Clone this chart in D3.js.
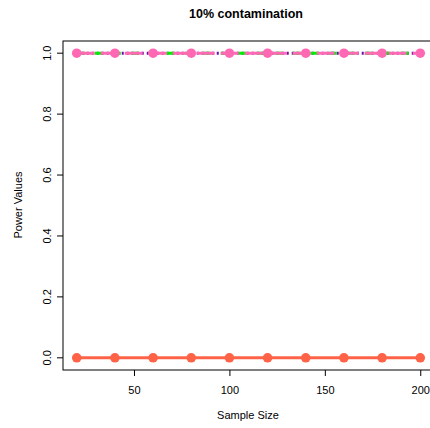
<!DOCTYPE html>
<html>
<head>
<meta charset="utf-8">
<script src="https://cdn.jsdelivr.net/npm/d3@7"></script>
<style>
    body { margin: 0; background: white; }
    text { font-family: "Liberation Sans", Arial, sans-serif; fill: black; }
</style>
</head>
<body>
<div id="chart"></div>
<script>
    // data
    var sampleSizes = [20, 40, 60, 80, 100, 120, 140, 160, 180, 200];
    var powerA = [0, 0, 0, 0, 0, 0, 0, 0, 0, 0];
    var powerB = [1, 1, 1, 1, 1, 1, 1, 1, 1, 1];
    var powerC = [1, 1, 1, 1, 1, 1, 1, 1, 1, 1];
    var powerD = [1, 1, 1, 1, 1, 1, 1, 1, 1, 1];
    var xTicks = [50, 100, 150, 200];
    var yTicks = [0, 0.2, 0.4, 0.6, 0.8, 1.0];

    var series = [
        {vals: powerA, color: "#ff6347", dash: null, pts: true},
        {vals: powerB, color: "#6a0dad", dash: "2,3", pts: false},
        {vals: powerC, color: "#00ee00", dash: "8,10", pts: false},
        {vals: powerD, color: "#ff69b4", dash: "18,6", pts: true}];

    var W = 430, H = 428;
    var box = {left: 63, right: 434, top: 41, bottom: 370};

    var svg = d3.select("#chart").append("svg")
        .attr("width", W).attr("height", H);

    var x = d3.scaleLinear().domain([12.8, 207.2])
        .range([box.left, box.right]);
    var y = d3.scaleLinear().domain([-0.04, 1.04])
        .range([box.bottom, box.top]);

    // series
    series.forEach(function (s) {
        var pts = sampleSizes.map(function (n, i) {
            return [n, s.vals[i]]; });
        var line = d3.line()
            .x(function (d) { return x(d[0]); })
            .y(function (d) { return y(d[1]); });
        var p = svg.append("path")
            .attr("d", line(pts))
            .attr("fill", "none")
            .attr("stroke", s.color)
            .attr("stroke-width", 3);
        if(s.dash) {
            p.attr("stroke-dasharray", s.dash); }
        if(s.pts) {
            svg.append("g").selectAll("circle").data(pts).enter()
                .append("circle")
                .attr("cx", function (d) { return x(d[0]); })
                .attr("cy", function (d) { return y(d[1]); })
                .attr("r", 4.8)
                .attr("fill", s.color); }
    });

    // frame
    svg.append("rect")
        .attr("x", box.left).attr("y", box.top)
        .attr("width", box.right - box.left)
        .attr("height", box.bottom - box.top)
        .attr("fill", "none").attr("stroke", "black").attr("stroke-width", 1);

    // axes
    var xAxis = d3.axisBottom(x).tickValues(xTicks)
        .tickSize(6).tickPadding(10).tickFormat(d3.format("d"));
    var gx = svg.append("g")
        .attr("transform", "translate(0," + box.bottom + ")")
        .call(xAxis);
    gx.select(".domain").remove();
    gx.selectAll("text").style("font-size", "11px")
        .style("font-family", "Liberation Sans, Arial, sans-serif");

    var yAxis = d3.axisLeft(y).tickValues(yTicks)
        .tickSize(6).tickFormat(d3.format(".1f"));
    var gy = svg.append("g")
        .attr("transform", "translate(" + box.left + ",0)")
        .call(yAxis);
    gy.select(".domain").remove();
    gy.selectAll("text")
        .attr("x", null).attr("dy", null)
        .attr("transform", function (d) {
            return "translate(-12," + y(d) + ") rotate(-90)"; })
        .attr("y", 0)
        .attr("text-anchor", "middle")
        .style("font-size", "11px")
        .style("font-family", "Liberation Sans, Arial, sans-serif");
    gy.selectAll(".tick").attr("transform", null);
    gy.selectAll(".tick line")
        .attr("y1", function (d) { return y(d); })
        .attr("y2", function (d) { return y(d); });

    // labels
    svg.append("text")
        .attr("x", 246).attr("y", 18)
        .attr("text-anchor", "middle")
        .style("font-size", "12.5px").style("font-weight", "bold")
        .text("10% contamination");
    svg.append("text")
        .attr("x", 248).attr("y", 419)
        .attr("text-anchor", "middle")
        .style("font-size", "11px")
        .text("Sample Size");
    svg.append("text")
        .attr("transform", "translate(22,205) rotate(-90)")
        .attr("text-anchor", "middle")
        .style("font-size", "11px")
        .text("Power Values");
</script>
</body>
</html>
